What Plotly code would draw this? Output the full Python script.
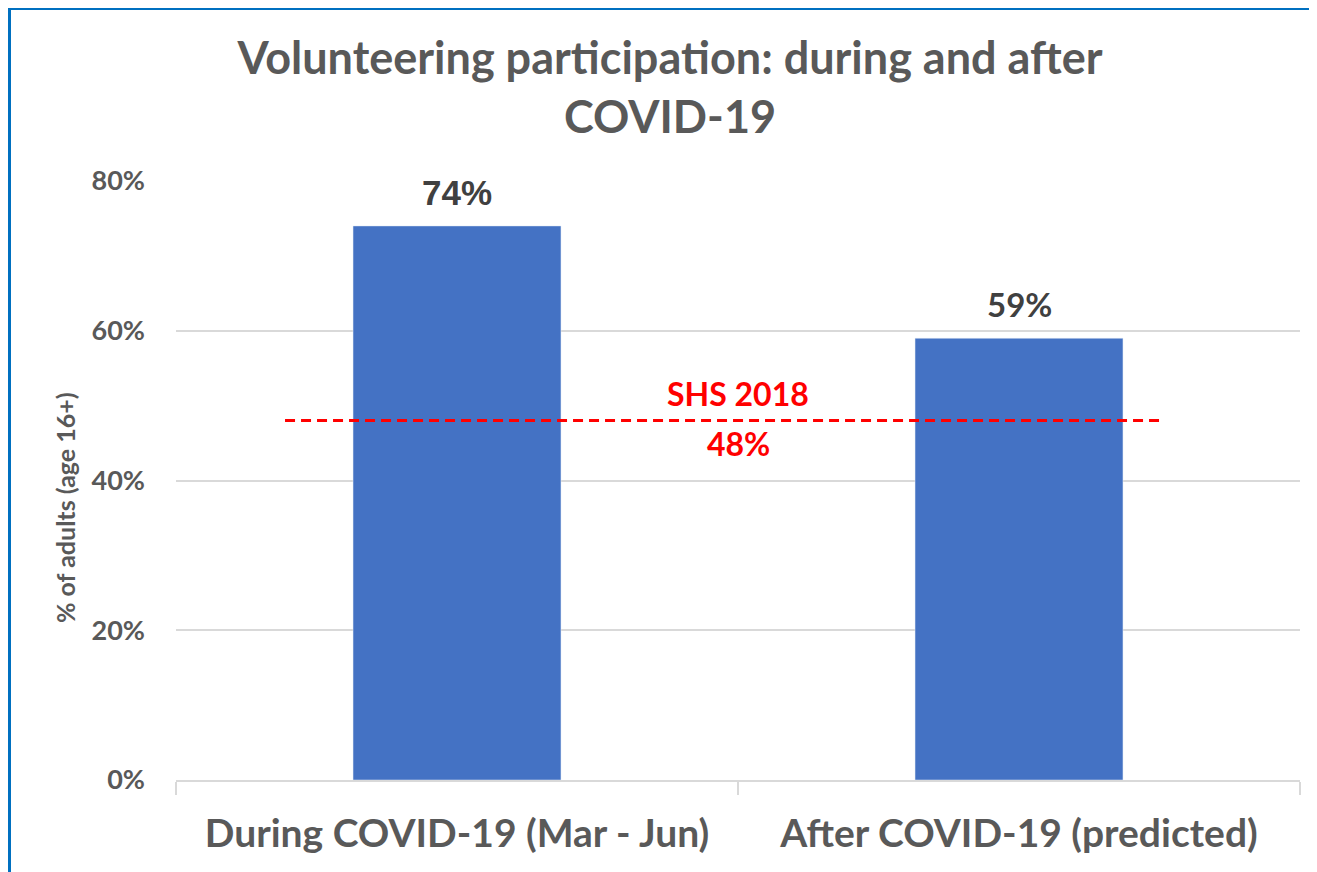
import plotly.graph_objects as go

categories = ["During COVID-19 (Mar - Jun)", "After COVID-19 (predicted)"]
values = [74, 59]
value_labels = ["74%", "59%"]
baseline_value = 48
baseline_label_top = "SHS 2018"
baseline_label_bottom = "48%"
baseline_span = [-0.306, 1.256]
y_ticks = [0, 20, 40, 60, 80]
y_ticktext = ["0%", "20%", "40%", "60%", "80%"]

W, H = 1317, 872
OFF = 8  # page body margin
L, R, T, B = 176 - OFF, 25, 181 - OFF, 100
FONT = "Lato"
GRAY = "#595959"

fig = go.Figure()
fig.add_trace(go.Bar(
    x=categories, y=values, marker_color="#4472C4", width=0.37,
    hoverinfo="skip", showlegend=False,
))

ann = []
sizes = [35, 33]
fams = ["Liberation Sans", FONT]
for c, v, lab, s, f in zip(categories, values, value_labels, sizes, fams):
    ann.append(dict(x=c, y=v, text=lab, showarrow=False,
                    yanchor="bottom", yshift=12,
                    font=dict(family=f, size=s, color="#404040", weight="bold")))
ann.append(dict(x=0.5, y=baseline_value, text=baseline_label_top,
                showarrow=False, yanchor="bottom", yshift=6,
                font=dict(family=FONT, size=32, color="#FF0000", weight="bold")))
ann.append(dict(x=0.5, y=baseline_value, text=baseline_label_bottom,
                showarrow=False, yanchor="top", yshift=-1,
                font=dict(family=FONT, size=32, color="#FF0000", weight="bold")))

def fx(xf):
    return (xf - L) / (W - L - R)
def fy(yf):
    return (H - B - yf) / (H - T - B)

BLUE = "#0070C0"
shapes = [
    dict(type="line", xref="x", yref="y",
         x0=baseline_span[0], x1=baseline_span[1],
         y0=baseline_value, y1=baseline_value,
         line=dict(color="#FF0000", width=3, dash="10px,6px")),
    dict(type="line", xref="paper", yref="paper",
         x0=fx(1.5), x1=fx(1.5), y0=fy(-5), y1=fy(H + 20),
         line=dict(color=BLUE, width=3)),
    dict(type="line", xref="paper", yref="paper",
         x0=fx(-5), x1=fx(W + 20), y0=fy(0.5), y1=fy(0.5),
         line=dict(color=BLUE, width=3)),
]

fig.update_layout(
    width=W, height=H,
    margin=dict(l=L, r=R, t=T, b=B),
    paper_bgcolor="white", plot_bgcolor="white",
    title=dict(text="Volunteering participation: during and after<br>COVID-19",
               x=(670 - OFF) / W, xanchor="center", y=0.924, yanchor="top",
               font=dict(family=FONT, size=45, color=GRAY, weight="bold")),
    bargap=0.63,
    xaxis=dict(type="category", showgrid=False, showline=True,
               linecolor="#D9D9D9", linewidth=1.5,
               ticks="outside", tickson="boundaries", ticklen=13,
               tickcolor="#D9D9D9", tickwidth=1.5,
               ticklabelstandoff=18,
               tickfont=dict(family=FONT, size=39, color=GRAY, weight="bold")),
    yaxis=dict(range=[0, 80], tickvals=y_ticks, ticktext=y_ticktext,
               showgrid=True, gridcolor="#D9D9D9", gridwidth=1.5,
               zeroline=False, showline=False, ticks="",
               ticklabelstandoff=30,
               tickfont=dict(family=FONT, size=27, color=GRAY, weight="bold")),
    annotations=ann + [dict(
        xref="paper", yref="paper", x=fx(65 - OFF), y=fy(508 - OFF),
        text="% of adults (age 16+)", textangle=-90, showarrow=False,
        xanchor="center", yanchor="middle",
        font=dict(family=FONT, size=25, color=GRAY, weight="bold"))],
    shapes=shapes,
)

fig.write_html("out.html")
